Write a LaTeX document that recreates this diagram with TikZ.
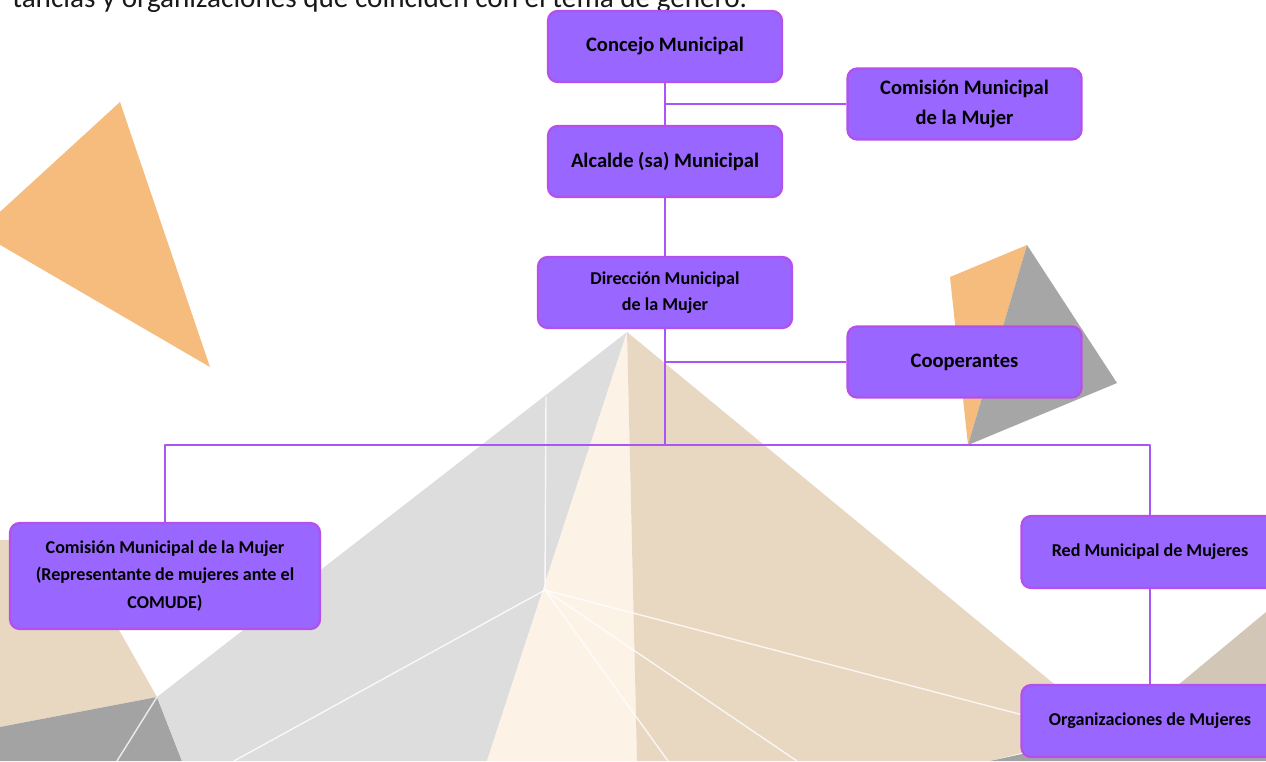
\documentclass[tikz,border=0pt]{standalone}
\usepackage{fontspec}
\setmainfont{Carlito}
\usepackage{tikz}
\usetikzlibrary{calc}

\definecolor{boxfill}{RGB}{153,102,255}
\definecolor{boxline}{RGB}{180,80,235}
\definecolor{linkcol}{RGB}{170,85,245}
\definecolor{peach}{RGB}{246,188,126}
\definecolor{stone}{RGB}{166,166,166}
\definecolor{mist}{RGB}{221,221,221}
\definecolor{sand}{RGB}{232,215,193}
\definecolor{cream}{RGB}{252,242,230}
\definecolor{taupe}{RGB}{210,198,182}
\definecolor{slate}{RGB}{163,163,163}

\tikzset{
    orgbox/.style={draw=boxline, line width=1.3pt, fill=boxfill, rounded corners=5.5pt,
        align=center, inner sep=2pt, minimum width=4.68cm, minimum height=1.42cm,
        font=\bfseries\fontsize{11.7}{17}\selectfont},
    smallbox/.style={orgbox, font=\bfseries\fontsize{10.3}{14.7}\selectfont},
    link/.style={draw=linkcol, line width=1.2pt},
    seam/.style={draw=white, line width=0.8pt, opacity=0.8}
}

\begin{document}
\begin{tikzpicture}[x=0.02cm, y=-0.02cm, line join=bevel]
            \useasboundingbox (0,0) rectangle (1266,761);
            \clip (0,0) rectangle (1266,761);

            \coordinate (T) at (627,332);
            \coordinate (C1) at (545,590);
            \coordinate (L1) at (157,697);

            \fill [peach] (120,102) -- (210,367) -- (-22,232) -- cycle;
            \fill [peach] (950,277) -- (1027,245) -- (968,445) -- cycle;
            \fill [stone] (1027,245) -- (1117,383) -- (968,445) -- cycle;

            \fill [sand] (0,540) -- (68,540) -- (L1) -- (0,727) -- cycle;
            \fill [slate] (0,727) -- (L1) -- (182,761) -- (0,761) -- cycle;
            \fill [mist] (T) -- (L1) -- (182,761) -- (487,761) -- cycle;
            \fill [cream] (T) -- (487,761) -- (637,761) -- cycle;
            \fill [sand] (T) -- (1110,730) -- (990,761) -- (637,761) -- cycle;
            \fill [slate] (990,761) -- (1266,700) -- (1266,761) -- cycle;
            \fill [taupe] (1160,700) -- (1266,612) -- (1266,705) -- cycle;

            \draw [seam] (L1) -- (117,761);
            \draw [seam] (546,397) -- (C1);
            \draw [seam] (C1) -- (234,761);
            \draw [seam] (C1) -- (1023,715);
            \draw [seam] (C1) -- (797,761);
            \draw [seam] (C1) -- (668,761);

            \node [anchor=base west, inner sep=0pt, text=black!90, font=\fontsize{16.6}{19}\selectfont] (intro) at (12,7.5) {tancias y organizaciones que coinciden con el tema de género.};

            \node [orgbox] (concejo) at (665,46.5) {Concejo Municipal};
            \node [orgbox] (comision) at (964.5,104) {Comisión Municipal\\de la Mujer};
            \node [orgbox] (alcalde) at (665,161.5) {Alcalde (sa) Municipal};
            \node [smallbox, minimum width=5.08cm] (direccion) at (665,292.5) {Dirección Municipal\\de la Mujer};
            \node [orgbox] (cooperantes) at (964.5,362) {Cooperantes};
            \node [smallbox, minimum width=6.2cm, minimum height=2.12cm, font=\bfseries\fontsize{10.3}{15.9}\selectfont] (comisionb) at (165,576) {Comisión Municipal de la Mujer\\(Representante de mujeres ante el\\COMUDE)};
            \node [smallbox, minimum width=5.14cm, minimum height=1.44cm] (red) at (1150,552) {Red Municipal de Mujeres};
            \node [smallbox, minimum width=5.14cm, minimum height=1.44cm] (mujeres) at (1150,721) {Organizaciones de Mujeres};

            \coordinate (busline) at (0,445);
            \coordinate (knot1) at (concejo.south |- comision.west);
            \coordinate (knot2) at (direccion.south |- cooperantes.west);
            \coordinate (knot3) at (direccion.south |- busline);

            \draw [link] (concejo) -- (alcalde);
            \draw [link] (knot1) -- (comision);
            \draw [link] (alcalde) -- (direccion);
            \draw [link] (direccion) -- (knot3);
            \draw [link] (knot2) -- (cooperantes);
            \draw [link] (comisionb) |- (knot3) -| (red);
            \draw [link] (red) -- (mujeres);
        \end{tikzpicture}
\end{document}
